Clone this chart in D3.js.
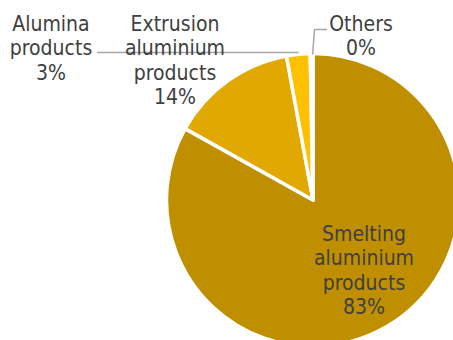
<!DOCTYPE html>
<html>
<head>
<meta charset="utf-8">
<script src="https://cdn.jsdelivr.net/npm/d3@7"></script>
<style>
  html, body { margin: 0; padding: 0; background: #fff; }
  svg { display: block; }
  text { font-family: "DejaVu Sans Condensed", "DejaVu Sans", sans-serif; font-stretch: condensed; font-size: 21px; fill: #404040; }
</style>
</head>
<body>
<svg id="chart" width="453" height="340"></svg>
<script>
// Data
const categories = ["Smelting aluminium products", "Extrusion aluminium products", "Alumina products", "Others"];
const values = [83.1, 14.0, 2.6, 0.3];
const percentLabels = ["83%", "14%", "3%", "0%"];
const colors = ["#BF8F00", "#E0A800", "#FFC000", "#FFD54F"];
// label line splits
const labelLines = [
  ["Smelting", "aluminium", "products"],
  ["Extrusion", "aluminium", "products"],
  ["Alumina", "products"],
  ["Others"]
];

const svg = d3.select("#chart");
const cx = 313, cy = 200, r = 146.5;

const pie = d3.pie().sort(null).value(d => d).startAngle(0).endAngle(2 * Math.PI);
const arcs = pie(values);
const arc = d3.arc().innerRadius(0).outerRadius(r);

const g = svg.append("g").attr("transform", `translate(${cx},${cy})`);
g.selectAll("path.slice")
  .data(arcs)
  .enter().append("path")
  .attr("class", "slice")
  .attr("d", arc)
  .attr("fill", (d, i) => colors[i])
  .attr("stroke", "#fff")
  .attr("stroke-width", 3.5)
  .attr("stroke-linejoin", "round");

// Leader lines (from slice edge to label)
const edgeArc = d3.arc().innerRadius(r - 2).outerRadius(r - 2);
function edgePoint(i) {
  const c = edgeArc.centroid(arcs[i]);
  return [cx + c[0], cy + c[1]];
}
const leaders = svg.append("g").attr("fill", "none").attr("stroke", "#A6A6A6").attr("stroke-width", 1.5);
// Alumina
{
  const p = edgePoint(2);
  leaders.append("path").attr("d", d3.line()([[97, 52.5], [p[0], 52.5]]));
}
// Others
{
  const p = edgePoint(3);
  leaders.append("path").attr("d", d3.line()([[p[0] + 1, p[1] - 1], [314.5, 29.5], [327, 29.5]]));
}

// Labels: center x, first baseline, line height
const labelPos = [
  { x: 364, y: 241 },
  { x: 175, y: 31 },
  { x: 51, y: 31 },
  { x: 361, y: 31 }
];
const lh = 24.3;
labelLines.forEach((lines, i) => {
  const t = svg.append("text").attr("text-anchor", "middle");
  const all = lines.concat([percentLabels[i]]);
  all.forEach((s, k) => {
    t.append("tspan").attr("x", labelPos[i].x).attr("y", labelPos[i].y + k * lh).text(s);
  });
});
</script>
</body>
</html>
